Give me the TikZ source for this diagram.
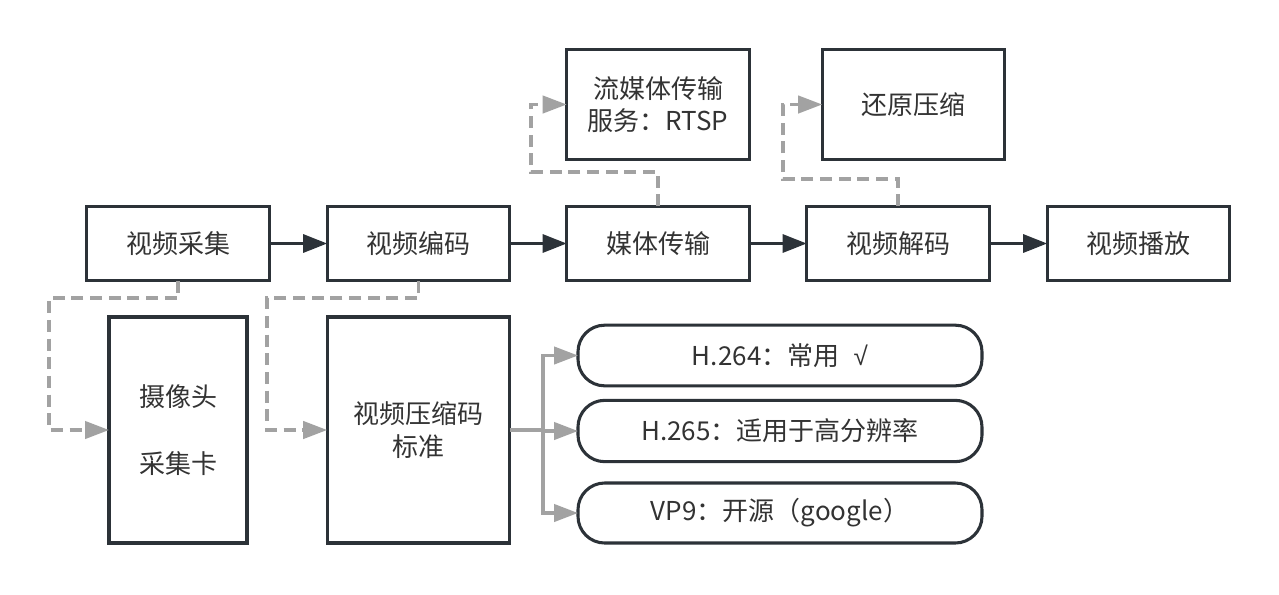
\documentclass[tikz,border=0pt]{standalone}
\usepackage{fontspec}
\setmainfont{Noto Sans CJK SC}
\newfontfamily\symfont{Liberation Sans}
\usetikzlibrary{arrows.meta}
\definecolor{dk}{RGB}{44,50,56}
\definecolor{gr}{RGB}{162,162,162}
\definecolor{tx}{RGB}{51,51,51}
\begin{document}
\begin{tikzpicture}[x=0.75pt,y=-0.75pt,
  box/.style={draw=dk,line width=2.3pt,fill=white,inner sep=0pt,outer sep=0pt,
    text=tx,align=center,font=\fontsize{19.5pt}{24pt}\selectfont},
  pill/.style={box,rounded corners=20pt},
  darrow/.style={draw=dk,line width=2.4pt,-{Triangle[length=18pt,width=13.5pt]}},
  garrow/.style={draw=gr,line width=2.4pt,-{Triangle[length=18pt,width=13pt]}},
  dasharrow/.style={garrow,dash pattern=on 9pt off 5pt}]
\useasboundingbox[fill=white] (0,0) rectangle (1279,594);
% top row
\node[box,minimum width=137pt,minimum height=56pt] (cap) at (178,243.5) {视频采集};
\node[box,minimum width=137pt,minimum height=56pt] (enc) at (418.5,243.5) {视频编码};
\node[box,minimum width=137pt,minimum height=56pt] (trans) at (658,243.5) {媒体传输};
\node[box,minimum width=137pt,minimum height=56pt] (dec) at (898,243.5) {视频解码};
\node[box,minimum width=137pt,minimum height=56pt] (play) at (1138.5,243.5) {视频播放};
% upper row
\node[box,minimum width=137pt,minimum height=83pt] (rtsp) at (658,104.5) {流媒体传输\\服务：RTSP};
\node[box,minimum width=137pt,minimum height=83pt] (restore) at (913.5,104.5) {还原压缩};
% lower row
\node[box,minimum width=103.5pt,minimum height=169.5pt] (cam) at (178,430) {摄像头\\[26pt]采集卡};
\node[box,minimum width=137pt,minimum height=169.5pt] (std) at (418.5,430) {视频压缩码\\[1pt]标准};
\node[pill,minimum width=303pt,minimum height=45.5pt] (h264) at (780,355.5) {H.264：常用\hspace{0.55em}{\symfont √}};
\node[pill,minimum width=303pt,minimum height=46pt] (h265) at (780,431) {H.265：适用于高分辨率};
\node[pill,minimum width=303pt,minimum height=45pt] (vp9) at (780,513) {VP9：开源（google）};
% main flow
\draw[darrow] (cap) -- (enc);
\draw[darrow] (enc) -- (trans);
\draw[darrow] (trans) -- (dec);
\draw[darrow] (dec) -- (play);
% dashed
\draw[dasharrow] (cap.south) |- (49,298) |- (cam.west);
\draw[dasharrow] (enc.south) |- (267,298) |- (std.west);
\draw[dasharrow] (trans.north) |- (531,172) |- (rtsp.west);
\draw[dasharrow] (dec.north) |- (783,179) |- (restore.west);
% branches
\coordinate (br) at (543,430);
\draw[garrow] (std.east) -- (br) |- (h264.west);
\draw[garrow] (std.east) -- (br) |- (h265.west);
\draw[garrow] (std.east) -- (br) |- (vp9.west);
\end{tikzpicture}
\end{document}
